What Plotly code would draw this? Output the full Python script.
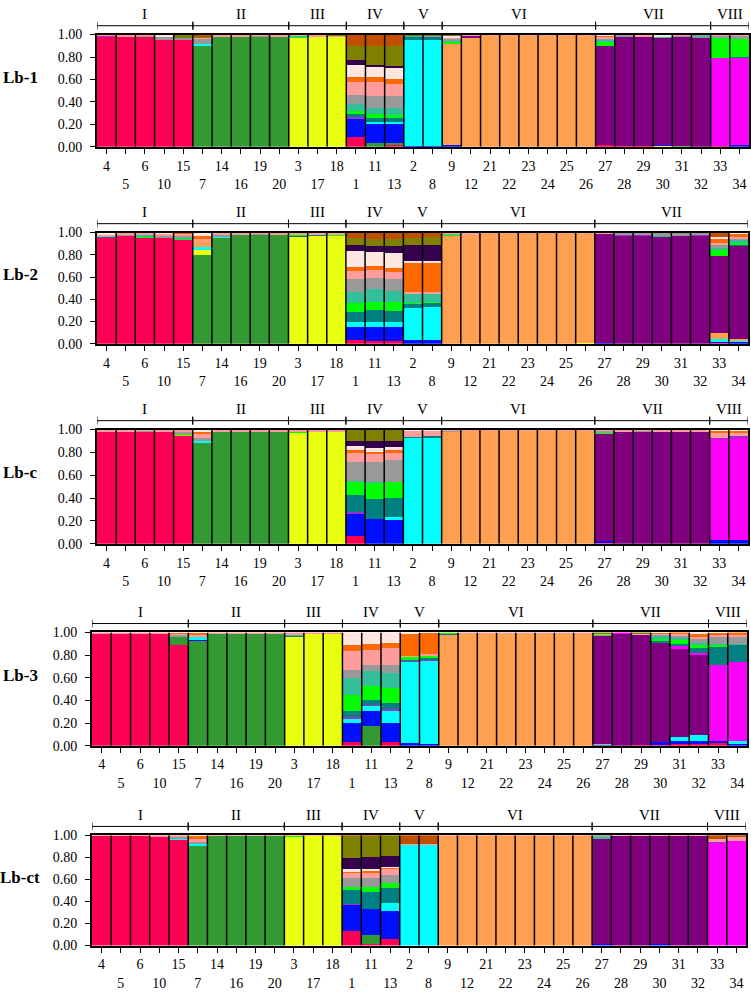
import plotly.graph_objects as go

W, H = 751, 992

# ---------------- data ----------------
individuals = [4, 5, 6, 10, 15, 7, 14, 16, 19, 20, 3, 17, 18, 1, 11, 13, 2, 8,
               9, 12, 21, 22, 23, 24, 25, 26, 27, 28, 29, 30, 31, 32, 33, 34]

groups_main = ["I", "II", "III", "IV", "V", "VI", "VII", "VIII"]
sizes_main = [5, 5, 3, 3, 2, 8, 6, 2]
groups_lb2 = ["I", "II", "III", "IV", "V", "VI", "VII"]
sizes_lb2 = [5, 5, 3, 3, 2, 8, 8]

panel_names = ["Lb-1", "Lb-2", "Lb-c", "Lb-3", "Lb-ct"]

clusters = ["red", "green", "yellow", "blue", "cyan", "peach", "purple", "magenta",
            "violet", "teal", "lime", "aqua", "gray", "salmon", "orange", "misty",
            "dkpurple", "olive", "brown"]
cluster_colors = {
    "red": "#FF0055", "green": "#339933", "yellow": "#E8FF10", "blue": "#0010FF",
    "cyan": "#00FFFF", "peach": "#FFA050", "purple": "#800080", "magenta": "#FF00FF",
    "violet": "#9933CC", "teal": "#008080", "lime": "#00FF00", "aqua": "#33BF9A",
    "gray": "#999999", "salmon": "#FF9C9C", "orange": "#FF6A00", "misty": "#FFE6E1",
    "dkpurple": "#35004D", "olive": "#808000", "brown": "#C05000",
}

lb1_q = [
    {"red": .98, "salmon": .01, "violet": .01},
    {"red": .98, "salmon": .02},
    {"red": .98, "gray": .01, "salmon": .01},
    {"red": .955, "gray": .02, "misty": .02, "salmon": .005},
    {"red": .95, "gray": .02, "olive": .03},
    {"green": .90, "cyan": .02, "gray": .04, "salmon": .01, "olive": .01, "brown": .02},
    {"green": .98, "salmon": .02},
    {"green": .98, "salmon": .02},
    {"green": .98, "gray": .01, "salmon": .01},
    {"green": .98, "salmon": .02},
    {"yellow": .97, "lime": .01, "aqua": .01, "salmon": .01},
    {"yellow": .98, "salmon": .02},
    {"yellow": .98, "salmon": .01, "olive": .01},
    {"red": .09, "blue": .16, "violet": .02, "teal": .02, "lime": .03, "aqua": .06, "gray": .08,
     "salmon": .12, "orange": .04, "misty": .11, "dkpurple": .04, "olive": .13, "brown": .10},
    {"green": .03, "blue": .17, "cyan": .02, "teal": .04, "lime": .03, "aqua": .06, "gray": .10,
     "salmon": .13, "orange": .04, "misty": .09, "dkpurple": .02, "olive": .17, "brown": .10},
    {"red": .02, "green": .01, "blue": .17, "cyan": .02, "teal": .04, "lime": .02, "aqua": .07,
     "gray": .10, "salmon": .11, "orange": .04, "misty": .10, "dkpurple": .02, "olive": .18, "brown": .10},
    {"blue": .01, "cyan": .94, "teal": .03, "aqua": .01, "olive": .01},
    {"blue": .01, "cyan": .94, "teal": .03, "gray": .01, "olive": .01},
    {"blue": .02, "peach": .90, "gray": .02, "lime": .01, "aqua": .01, "salmon": .01, "misty": .02, "olive": .01},
    {"peach": .97, "purple": .02, "salmon": .01},
    {"peach": .99, "salmon": .01},
    {"peach": .99, "salmon": .01},
    {"peach": .99, "salmon": .01},
    {"peach": .99, "salmon": .01},
    {"peach": .99, "salmon": .01},
    {"peach": .99, "salmon": .01},
    {"red": .02, "purple": .88, "lime": .03, "aqua": .02, "gray": .01, "salmon": .02, "orange": .01, "misty": .01},
    {"red": .01, "purple": .97, "gray": .02},
    {"red": .01, "purple": .97, "salmon": .02},
    {"yellow": .01, "blue": .01, "purple": .95, "aqua": .01, "misty": .02},
    {"green": .01, "purple": .97, "gray": .01, "salmon": .01},
    {"purple": .97, "aqua": .01, "gray": .02},
    {"red": .01, "magenta": .78, "lime": .18, "gray": .02, "salmon": .01},
    {"blue": .02, "magenta": .77, "teal": .01, "lime": .16, "gray": .03, "salmon": .01},
]

lb2_q = [
    {"red": .96, "cyan": .01, "misty": .02, "salmon": .01},
    {"red": .97, "gray": .01, "salmon": .02},
    {"red": .95, "lime": .01, "aqua": .02, "salmon": .02},
    {"red": .95, "gray": .02, "salmon": .02, "misty": .01},
    {"red": .93, "aqua": .01, "lime": .01, "gray": .02, "salmon": .02, "orange": .01},
    {"green": .80, "yellow": .04, "cyan": .03, "peach": .05, "orange": .03, "misty": .03, "salmon": .02},
    {"green": .95, "cyan": .01, "gray": .02, "salmon": .02},
    {"green": .98, "salmon": .02},
    {"green": .98, "gray": .01, "salmon": .01},
    {"green": .98, "salmon": .02},
    {"yellow": .96, "teal": .01, "lime": .01, "salmon": .02},
    {"yellow": .97, "teal": .01, "salmon": .02},
    {"yellow": .97, "lime": .01, "salmon": .02},
    {"red": .03, "blue": .125, "cyan": .045, "teal": .09, "lime": .08, "aqua": .10, "gray": .11,
     "salmon": .07, "orange": .04, "misty": .14, "dkpurple": .06, "olive": .065, "brown": .045},
    {"red": .025, "blue": .13, "cyan": .045, "teal": .10, "lime": .08, "aqua": .11, "gray": .10,
     "salmon": .07, "orange": .04, "misty": .125, "dkpurple": .05, "olive": .07, "brown": .055},
    {"red": .024, "blue": .126, "cyan": .05, "teal": .097, "lime": .083, "aqua": .095, "gray": .105,
     "salmon": .067, "orange": .033, "misty": .136, "dkpurple": .059, "olive": .07, "brown": .055},
    {"blue": .036, "cyan": .29, "teal": .03, "lime": .015, "aqua": .074, "salmon": .024,
     "orange": .258, "misty": .015, "dkpurple": .142, "olive": .071, "brown": .045},
    {"blue": .03, "cyan": .30, "teal": .035, "lime": .015, "aqua": .07, "salmon": .02,
     "orange": .26, "misty": .01, "dkpurple": .15, "olive": .07, "brown": .04},
    {"peach": .97, "gray": .01, "lime": .01, "salmon": .01},
    {"peach": .98, "salmon": .02},
    {"peach": .99, "salmon": .01},
    {"peach": .99, "salmon": .01},
    {"peach": .99, "salmon": .01},
    {"peach": .99, "salmon": .01},
    {"peach": .99, "salmon": .01},
    {"yellow": .01, "peach": .98, "salmon": .01},
    {"blue": .01, "purple": .98, "salmon": .01},
    {"purple": .97, "violet": .01, "gray": .02},
    {"purple": .97, "violet": .01, "gray": .02},
    {"purple": .96, "aqua": .01, "gray": .03},
    {"purple": .97, "gray": .03},
    {"purple": .97, "violet": .01, "gray": .02},
    {"red": .01, "blue": .01, "cyan": .02, "peach": .06, "purple": .69, "lime": .05, "aqua": .02,
     "gray": .03, "salmon": .02, "orange": .03, "misty": .02, "brown": .04},
    {"blue": .015, "cyan": .01, "peach": .015, "purple": .84, "teal": .01, "lime": .02, "aqua": .02,
     "gray": .01, "salmon": .02, "orange": .03, "misty": .01},
]

lbc_q = [
    {"red": .98, "salmon": .02},
    {"red": .98, "salmon": .02},
    {"red": .98, "gray": .01, "salmon": .01},
    {"red": .98, "salmon": .02},
    {"red": .94, "peach": .01, "lime": .01, "gray": .02, "salmon": .02},
    {"green": .88, "cyan": .02, "gray": .03, "salmon": .03, "orange": .02, "misty": .02},
    {"green": .98, "salmon": .02},
    {"green": .98, "salmon": .02},
    {"green": .98, "salmon": .02},
    {"green": .98, "salmon": .02},
    {"yellow": .97, "lime": .01, "salmon": .02},
    {"yellow": .98, "salmon": .02},
    {"yellow": .98, "salmon": .02},
    {"red": .072, "blue": .188, "violet": .02, "teal": .144, "lime": .115, "aqua": .01, "gray": .164,
     "salmon": .08, "orange": .03, "misty": .035, "dkpurple": .043, "olive": .092, "brown": .007},
    {"blue": .216, "teal": .174, "lime": .14, "aqua": .01, "gray": .177, "salmon": .067,
     "orange": .02, "misty": .037, "dkpurple": .058, "olive": .101},
    {"blue": .21, "cyan": .021, "teal": .172, "lime": .136, "gray": .19, "salmon": .069,
     "orange": .023, "misty": .029, "dkpurple": .052, "olive": .098},
    {"cyan": .925, "teal": .01, "salmon": .055, "misty": .01},
    {"cyan": .93, "teal": .01, "salmon": .05, "misty": .01},
    {"peach": .98, "gray": .01, "salmon": .01},
    {"peach": .99, "salmon": .01},
    {"peach": .99, "salmon": .01},
    {"peach": .99, "salmon": .01},
    {"peach": .99, "salmon": .01},
    {"peach": .99, "salmon": .01},
    {"peach": .99, "salmon": .01},
    {"peach": .99, "salmon": .01},
    {"red": .01, "blue": .01, "purple": .94, "lime": .01, "gray": .02, "salmon": .01},
    {"purple": .98, "salmon": .02},
    {"purple": .98, "gray": .01, "salmon": .01},
    {"purple": .98, "salmon": .02},
    {"purple": .98, "salmon": .02},
    {"purple": .98, "salmon": .02},
    {"blue": .03, "magenta": .89, "violet": .01, "salmon": .04, "orange": .02, "misty": .01},
    {"blue": .03, "magenta": .90, "violet": .01, "salmon": .03, "orange": .02, "misty": .01},
]

lb3_q = [
    {"red": .985, "salmon": .015},
    {"red": .985, "salmon": .015},
    {"red": .985, "salmon": .015},
    {"red": .985, "salmon": .015},
    {"red": .885, "green": .075, "gray": .015, "salmon": .01, "orange": .01, "misty": .005},
    {"green": .92, "blue": .01, "cyan": .025, "salmon": .02, "orange": .02, "misty": .005},
    {"green": .99, "salmon": .01},
    {"green": .99, "salmon": .01},
    {"green": .99, "salmon": .01},
    {"green": .99, "salmon": .01},
    {"yellow": .96, "teal": .01, "aqua": .01, "salmon": .02},
    {"yellow": .985, "salmon": .015},
    {"yellow": .985, "salmon": .015},
    {"red": .03, "blue": .169, "cyan": .034, "violet": .021, "teal": .052, "lime": .145, "aqua": .145,
     "gray": .072, "salmon": .165, "orange": .058, "misty": .109},
    {"green": .174, "blue": .131, "cyan": .043, "violet": .015, "teal": .043, "lime": .125, "aqua": .127,
     "gray": .058, "salmon": .125, "orange": .058, "misty": .101},
    {"red": .035, "blue": .168, "cyan": .107, "violet": .015, "teal": .052, "lime": .13, "aqua": .131,
     "gray": .072, "salmon": .154, "orange": .04, "misty": .096},
    {"blue": .02, "cyan": .72, "violet": .01, "teal": .01, "lime": .02, "salmon": .01, "orange": .20, "misty": .01},
    {"blue": .015, "cyan": .735, "violet": .01, "teal": .01, "lime": .025, "salmon": .01, "orange": .19, "misty": .005},
    {"peach": .975, "teal": .01, "lime": .01, "salmon": .005},
    {"peach": .99, "salmon": .01},
    {"peach": .99, "salmon": .01},
    {"peach": .99, "salmon": .01},
    {"peach": .99, "salmon": .01},
    {"peach": .99, "salmon": .01},
    {"peach": .99, "salmon": .01},
    {"peach": .99, "salmon": .01},
    {"red": .01, "cyan": .005, "purple": .955, "lime": .01, "olive": .01, "salmon": .01},
    {"purple": .985, "magenta": .015},
    {"red": .01, "purple": .965, "salmon": .01, "olive": .015},
    {"red": .01, "blue": .02, "purple": .88, "teal": .015, "lime": .02, "aqua": .02, "gray": .01,
     "salmon": .01, "orange": .01, "misty": .005},
    {"red": .015, "blue": .03, "cyan": .03, "purple": .775, "magenta": .03, "teal": .02, "lime": .03,
     "aqua": .02, "gray": .02, "salmon": .015, "orange": .015},
    {"red": .015, "blue": .025, "cyan": .05, "purple": .71, "magenta": .015, "teal": .05, "lime": .025,
     "aqua": .02, "gray": .03, "salmon": .02, "orange": .03, "misty": .01},
    {"red": .02, "blue": .02, "magenta": .675, "teal": .155, "lime": .02, "aqua": .01, "gray": .06,
     "salmon": .015, "orange": .02, "misty": .005},
    {"blue": .015, "cyan": .03, "magenta": .69, "teal": .155, "aqua": .01, "gray": .06, "salmon": .02, "orange": .02},
]

lbct_q = [
    {"red": .99, "salmon": .01},
    {"red": .99, "salmon": .01},
    {"red": .99, "salmon": .01},
    {"red": .985, "salmon": .015},
    {"red": .96, "cyan": .01, "gray": .015, "salmon": .015},
    {"green": .90, "cyan": .02, "gray": .02, "salmon": .03, "orange": .02, "misty": .01},
    {"green": .99, "salmon": .01},
    {"green": .99, "salmon": .01},
    {"green": .99, "salmon": .01},
    {"green": .99, "salmon": .01},
    {"yellow": .98, "lime": .01, "salmon": .01},
    {"yellow": .99, "salmon": .01},
    {"yellow": .99, "salmon": .01},
    {"red": .13, "blue": .24, "violet": .01, "teal": .12, "lime": .03, "gray": .08, "salmon": .045,
     "orange": .015, "misty": .02, "dkpurple": .105, "olive": .195, "brown": .01},
    {"red": .015, "green": .08, "blue": .235, "teal": .16, "lime": .04, "gray": .08, "salmon": .05,
     "orange": .015, "misty": .02, "dkpurple": .11, "olive": .185, "brown": .01},
    {"red": .06, "blue": .25, "cyan": .075, "teal": .135, "lime": .045, "gray": .075, "salmon": .05,
     "orange": .01, "misty": .016, "dkpurple": .094, "olive": .19},
    {"cyan": .91, "salmon": .01, "brown": .08},
    {"cyan": .91, "salmon": .01, "brown": .08},
    {"peach": .99, "salmon": .01},
    {"peach": .99, "salmon": .01},
    {"peach": .99, "salmon": .01},
    {"peach": .99, "salmon": .01},
    {"peach": .99, "salmon": .01},
    {"peach": .99, "salmon": .01},
    {"peach": .99, "salmon": .01},
    {"peach": .99, "salmon": .01},
    {"blue": .01, "purple": .96, "aqua": .01, "gray": .02},
    {"purple": .99, "salmon": .01},
    {"purple": .99, "salmon": .01},
    {"blue": .01, "purple": .98, "salmon": .01},
    {"purple": .99, "salmon": .01},
    {"purple": .99, "salmon": .01},
    {"magenta": .93, "violet": .01, "salmon": .025, "brown": .035},
    {"magenta": .95, "salmon": .03, "brown": .02},
]

panel_data = [lb1_q, lb2_q, lbc_q, lb3_q, lbct_q]
panel_groups = [(groups_main, sizes_main), (groups_lb2, sizes_lb2), (groups_main, sizes_main),
                (groups_main, sizes_main), (groups_main, sizes_main)]

# ---------------- layout (pixels) ----------------
panel_px = [  # left, right, top, bottom
    (97, 749, 28, 142),
    (97, 748, 229, 342),
    (97, 748, 429, 545),
    (92, 747, 635, 750),
    (92, 746, 841, 953),
]

SERIF = "Liberation Serif, Times New Roman, serif"

fig = go.Figure()
n = len(individuals)
xs = list(range(n))
ticktext = [str(v) if i % 2 == 0 else "<br>" + str(v) for i, v in enumerate(individuals)]

shapes = []
annotations = []


def py(p):
    return 1 - p / H


for p, q in enumerate(panel_data):
    ax = "" if p == 0 else str(p + 1)
    xref, yref = "x" + ax, "y" + ax
    for c in clusters:
        vals = [bar.get(c, 0.0) for bar in q]
        if sum(vals) == 0:
            continue
        fig.add_trace(go.Bar(x=xs, y=vals, xaxis=xref, yaxis=yref,
                             marker=dict(color=cluster_colors[c], line=dict(width=0)),
                             width=1.0, showlegend=False, hoverinfo="skip"))
    L, R, T, B = panel_px[p]
    fig.layout["xaxis" + ax] = dict(
        domain=[L / W, R / W], anchor=yref, range=[-0.5, n - 0.5],
        tickvals=xs, ticktext=ticktext, ticks="outside", ticklen=5, tickwidth=1,
        tickcolor="black", showline=True, linecolor="black", linewidth=2, mirror=True,
        showgrid=False, zeroline=False, fixedrange=True,
        tickfont=dict(family=SERIF, size=14, color="black"),
    )
    fig.layout["yaxis" + ax] = dict(
        domain=[py(B), py(T)], anchor=xref, range=[0, 1.0],
        tickvals=[0, .2, .4, .6, .8, 1.0], tickformat=".2f", ticks="outside", ticklen=5,
        ticklabelstandoff=5,
        tickcolor="black", showline=True, linecolor="black", linewidth=2, mirror=True,
        showgrid=False, zeroline=False, fixedrange=True,
        tickfont=dict(family=SERIF, size=14, color="black"),
    )
    # bar separators
    for i in range(n - 1):
        shapes.append(dict(type="line", xref=xref, yref=yref, x0=i + 0.5, x1=i + 0.5,
                           y0=0, y1=1, line=dict(color="black", width=1.5), layer="above"))
    # group brackets and labels
    names, sizes = panel_groups[p]
    yb = py(T - 9)
    shapes.append(dict(type="line", xref=xref, yref="paper", x0=-0.5, x1=n - 0.5,
                       y0=yb, y1=yb, line=dict(color="black", width=1)))
    start = 0
    for gname, gs in zip(names, sizes):
        end = start + gs
        for xb in (start - 0.5, end - 0.5):
            shapes.append(dict(type="line", xref=xref, yref="paper", x0=xb, x1=xb,
                               y0=py(T - 5), y1=py(T - 13), line=dict(color="black", width=1)))
        annotations.append(dict(xref=xref, yref="paper", x=(start + end - 1) / 2, y=py(T - 21),
                                text=gname, showarrow=False, yanchor="middle",
                                font=dict(family=SERIF, size=15, color="black")))
        start = end
    annotations.append(dict(xref="paper", yref="paper", x=20 / W, y=py(T + 0.38 * (B - T)),
                            text="<b>" + panel_names[p] + "</b>", showarrow=False,
                            xanchor="center", yanchor="middle",
                            font=dict(family=SERIF, size=17, color="black")))

fig.update_layout(
    width=W, height=H, margin=dict(l=0, r=0, t=0, b=0),
    paper_bgcolor="white", plot_bgcolor="white",
    barmode="stack", bargap=0, showlegend=False,
    shapes=shapes, annotations=annotations,
)

fig.write_html("out.html", config={"displayModeBar": False, "staticPlot": True},
               post_script="document.body.style.margin='0';document.body.style.overflow='hidden';")
